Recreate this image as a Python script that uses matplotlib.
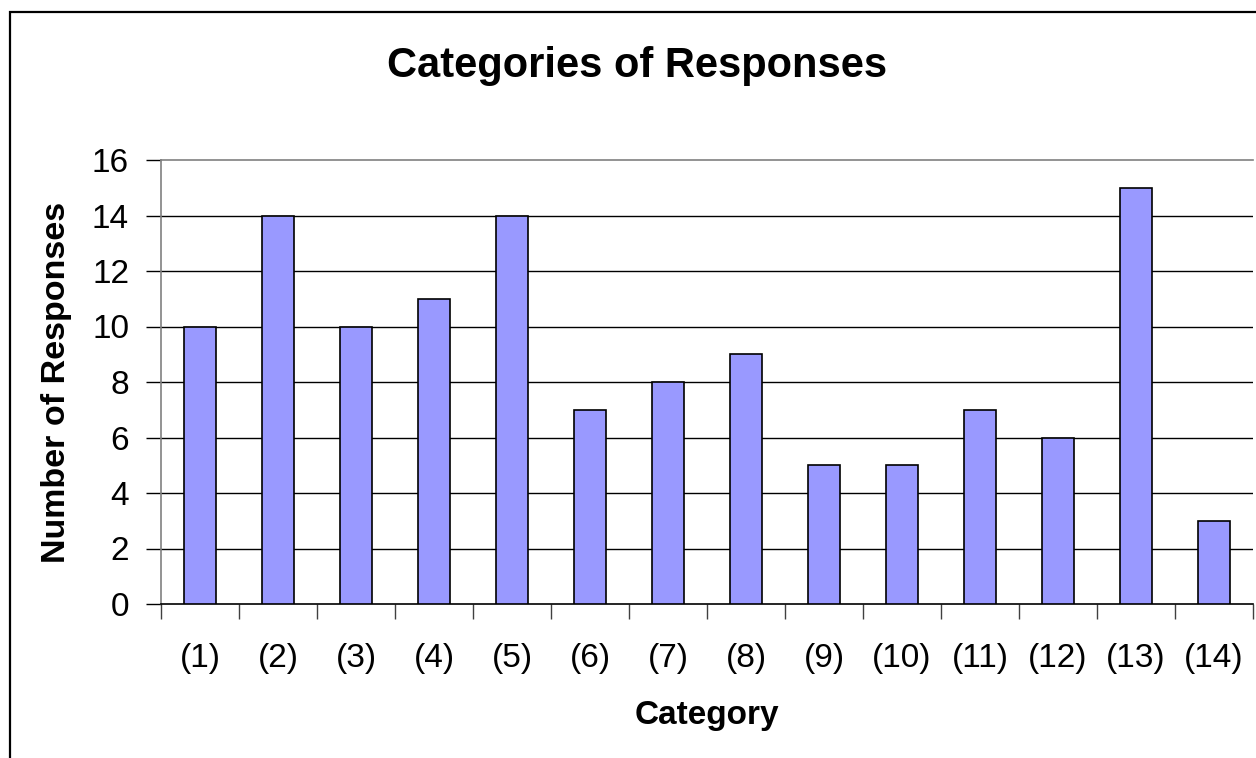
import matplotlib
matplotlib.use("Agg")
import matplotlib.pyplot as plt
from matplotlib.patches import Rectangle
import numpy as np

plt.rcParams['font.family'] = ['Liberation Sans', 'DejaVu Sans']

categories = ["(1)", "(2)", "(3)", "(4)", "(5)", "(6)", "(7)",
              "(8)", "(9)", "(10)", "(11)", "(12)", "(13)", "(14)"]
responses = [10, 14, 10, 11, 14, 7, 8, 9, 5, 5, 7, 6, 15, 3]
y_ticks = [0, 2, 4, 6, 8, 10, 12, 14, 16]

W, H = 1256, 758
fig = plt.figure(figsize=(W / 100, H / 100), dpi=100)
fig.patch.set_facecolor("white")

# chart-area frame (left and top edges visible)
fig.patches.append(Rectangle((10 / W, -0.1), 1.2, (H - 12) / H + 0.1,
                             transform=fig.transFigure, fill=False,
                             edgecolor="black", linewidth=1.6, zorder=0))

left, right, top, bottom = 161, 1253, 160, 604
ax = fig.add_axes([left / W, (H - bottom) / H, (right - left) / W, (bottom - top) / H])

x = np.arange(len(categories))
ax.bar(x, responses, width=0.4, color="#9999FF", edgecolor="black",
       linewidth=1.2, zorder=3)

ax.set_xlim(-0.5, len(categories) - 0.5)
ax.set_ylim(0, 16)

# horizontal gridlines
for v in y_ticks[1:-1]:
    ax.axhline(v, color="black", linewidth=1.0, zorder=1)

ax.spines["right"].set_visible(False)
ax.spines["top"].set_color("#808080")
ax.spines["top"].set_linewidth(1.2)
ax.spines["left"].set_color("#808080")
ax.spines["left"].set_linewidth(1.2)
ax.spines["bottom"].set_color("black")
ax.spines["bottom"].set_linewidth(1.2)

ax.set_yticks(y_ticks)
ax.set_yticklabels([str(v) for v in y_ticks])
ax.tick_params(axis="y", direction="out", length=11, width=1.0,
               color="black", labelsize=24, pad=12)

# category boundary ticks, labels centred under each bar
ax.set_xticks(np.arange(-0.5, len(categories), 1.0))
ax.set_xticklabels([])
ax.set_xticks(x, minor=True)
ax.set_xticklabels(categories, minor=True)
ax.tick_params(axis="x", which="major", direction="out", length=11,
               width=1.0, color="#404040")
ax.tick_params(axis="x", which="minor", length=0, labelsize=24, pad=28)

ax.set_ylabel("Number of Responses", fontsize=24.5, fontweight="bold")
ax.yaxis.set_label_coords((72 - left) / (right - left), 0.5)
ax.set_xlabel("Category", fontsize=24, fontweight="bold")
ax.xaxis.set_label_coords(0.5, (bottom - 700) / (bottom - top))

fig.text(637.5 / W, 1 - 77 / H, "Categories of Responses", ha="center",
         va="baseline", fontsize=30, fontweight="bold")

fig.savefig("out.png", dpi=100)
